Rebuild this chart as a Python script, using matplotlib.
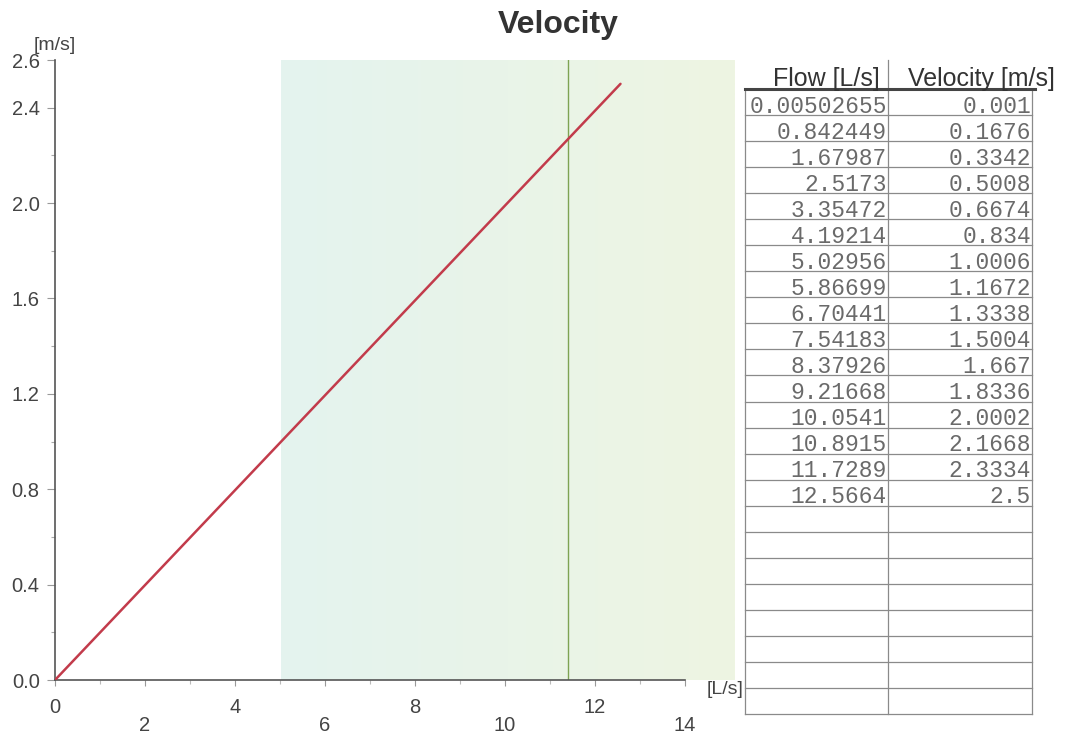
import matplotlib
matplotlib.use("Agg")
import matplotlib.pyplot as plt
import numpy as np
from matplotlib.colors import LinearSegmentedColormap

# ---- data ----
flow = [0.00502655, 0.842449, 1.67987, 2.5173, 3.35472, 4.19214, 5.02956,
        5.86699, 6.70441, 7.54183, 8.37926, 9.21668, 10.0541, 10.8915,
        11.7289, 12.5664]
velocity = [0.001, 0.1676, 0.3342, 0.5008, 0.6674, 0.834, 1.0006, 1.1672,
            1.3338, 1.5004, 1.667, 1.8336, 2.0002, 2.1668, 2.3334, 2.5]
flow_labels = ["0.00502655", "0.842449", "1.67987", "2.5173", "3.35472",
               "4.19214", "5.02956", "5.86699", "6.70441", "7.54183",
               "8.37926", "9.21668", "10.0541", "10.8915", "11.7289", "12.5664"]
velocity_labels = ["0.001", "0.1676", "0.3342", "0.5008", "0.6674", "0.834",
                   "1.0006", "1.1672", "1.3338", "1.5004", "1.667", "1.8336",
                   "2.0002", "2.1668", "2.3334", "2.5"]
x_ticks = [0, 2, 4, 6, 8, 10, 12, 14]
y_ticks = [0.0, 0.4, 0.8, 1.2, 1.6, 2.0, 2.4, 2.6]
y_tick_labels = ["0.0", "0.4", "0.8", "1.2", "1.6", "2.0", "2.4", "2.6"]
range_start, range_end = 5.03, 15.1
marker_flow = 11.4
table_headers = ["Flow [L/s]", "Velocity [m/s]"]
n_table_rows = 24

W, H = 1065, 743
fig = plt.figure(figsize=(W / 100, H / 100), dpi=100)
fig.patch.set_facecolor("white")

ax = fig.add_axes([55 / W, 1 - 680 / H, 630 / W, 620 / H])
ax.set_facecolor("none")

# shaded operating range (gradient), extends beyond axis end
cmap = LinearSegmentedColormap.from_list("g", ["#e4f3ef", "#eef5e2"])
grad = np.linspace(0, 1, 256).reshape(1, -1)
ax.imshow(grad, cmap=cmap, aspect="auto", extent=[range_start, range_end, 0, 2.6],
          clip_on=False, zorder=0)
ax.set_xlim(0, 14)
ax.set_ylim(0, 2.6)

ax.axvline(marker_flow, color="#7ea352", lw=1.0, zorder=2)
ax.plot(flow, velocity, color="#c23b4b", lw=1.8, zorder=3, solid_capstyle="round")

for s in ["top", "right"]:
    ax.spines[s].set_visible(False)
for s in ["left", "bottom"]:
    ax.spines[s].set_color("#555555")
    ax.spines[s].set_linewidth(1.2)

ax.set_xticks(x_ticks)
ax.set_xticklabels([str(v) for v in x_ticks])
ax.set_xticks(np.arange(0, 15, 1), minor=True)
ax.set_yticks(y_ticks)
ax.set_yticklabels(y_tick_labels)
ax.set_yticks(np.arange(0, 2.61, 0.2), minor=True)

ax.tick_params(axis="x", which="major", direction="out", length=4, width=0.8,
               color="#999999", labelsize=14.5, labelcolor="#444444")
ax.tick_params(axis="x", which="minor", direction="out", length=3, width=0.8,
               color="#bbbbbb")
ax.tick_params(axis="y", which="major", direction="out", length=6, width=0.8,
               color="#999999", labelsize=14.5, labelcolor="#444444", pad=5)
ax.tick_params(axis="y", which="minor", direction="out", length=3, width=0.8,
               color="#aaaaaa")
for lab in ax.get_xticklabels() + ax.get_yticklabels():
    lab.set_family("Liberation Sans")

for i, t in enumerate(ax.xaxis.get_major_ticks()):
    t.set_pad(9 if i % 2 == 0 else 22)

# overlay axes in pixel coordinates for texts and table
ov = fig.add_axes([0, 0, 1, 1])
ov.set_xlim(0, W)
ov.set_ylim(H, 0)
ov.axis("off")
ov.patch.set_alpha(0)

ov.text(558, 25, "Velocity", ha="center", va="center", fontsize=23,
        fontweight="bold", color="#333333", family="Liberation Sans")
ov.text(55, 45, "[m/s]", ha="center", va="center", fontsize=14,
        color="#444444", family="Liberation Sans")
ov.text(725, 690, "[L/s]", ha="center", va="center", fontsize=14,
        color="#444444", family="Liberation Sans")

# table
tl, tm, tr = 745, 888, 1032
ttop, tbot = 89, 714
rh = (tbot - ttop) / n_table_rows
grid_c = "#8a8a8a"
ov.plot([tl, tl], [ttop, tbot], color=grid_c, lw=0.9)
ov.plot([tr, tr], [ttop, tbot], color=grid_c, lw=0.9)
ov.plot([tm, tm], [60, tbot], color=grid_c, lw=0.9)
for r in range(1, n_table_rows + 1):
    y = ttop + r * rh
    ov.plot([tl, tr], [y, y], color=grid_c, lw=0.9)
ov.plot([tl, 1035], [ttop, ttop], color="#444444", lw=2.2)

ov.text(880, 86, table_headers[0], ha="right", va="baseline", fontsize=18,
        color="#333333", family="Liberation Sans")
ov.text(1055, 86, table_headers[1], ha="right", va="baseline", fontsize=18,
        color="#333333", family="Liberation Sans")

for i, (fl, vl) in enumerate(zip(flow_labels, velocity_labels)):
    yb = ttop + (i + 1) * rh - 2.5
    ov.text(tm - 1, yb, fl, ha="right", va="baseline", fontsize=16.5,
            color="#6a6a6a", family="Liberation Mono")
    ov.text(tr - 1, yb, vl, ha="right", va="baseline", fontsize=16.5,
            color="#6a6a6a", family="Liberation Mono")

fig.savefig("out.png", dpi=100, facecolor="white")
